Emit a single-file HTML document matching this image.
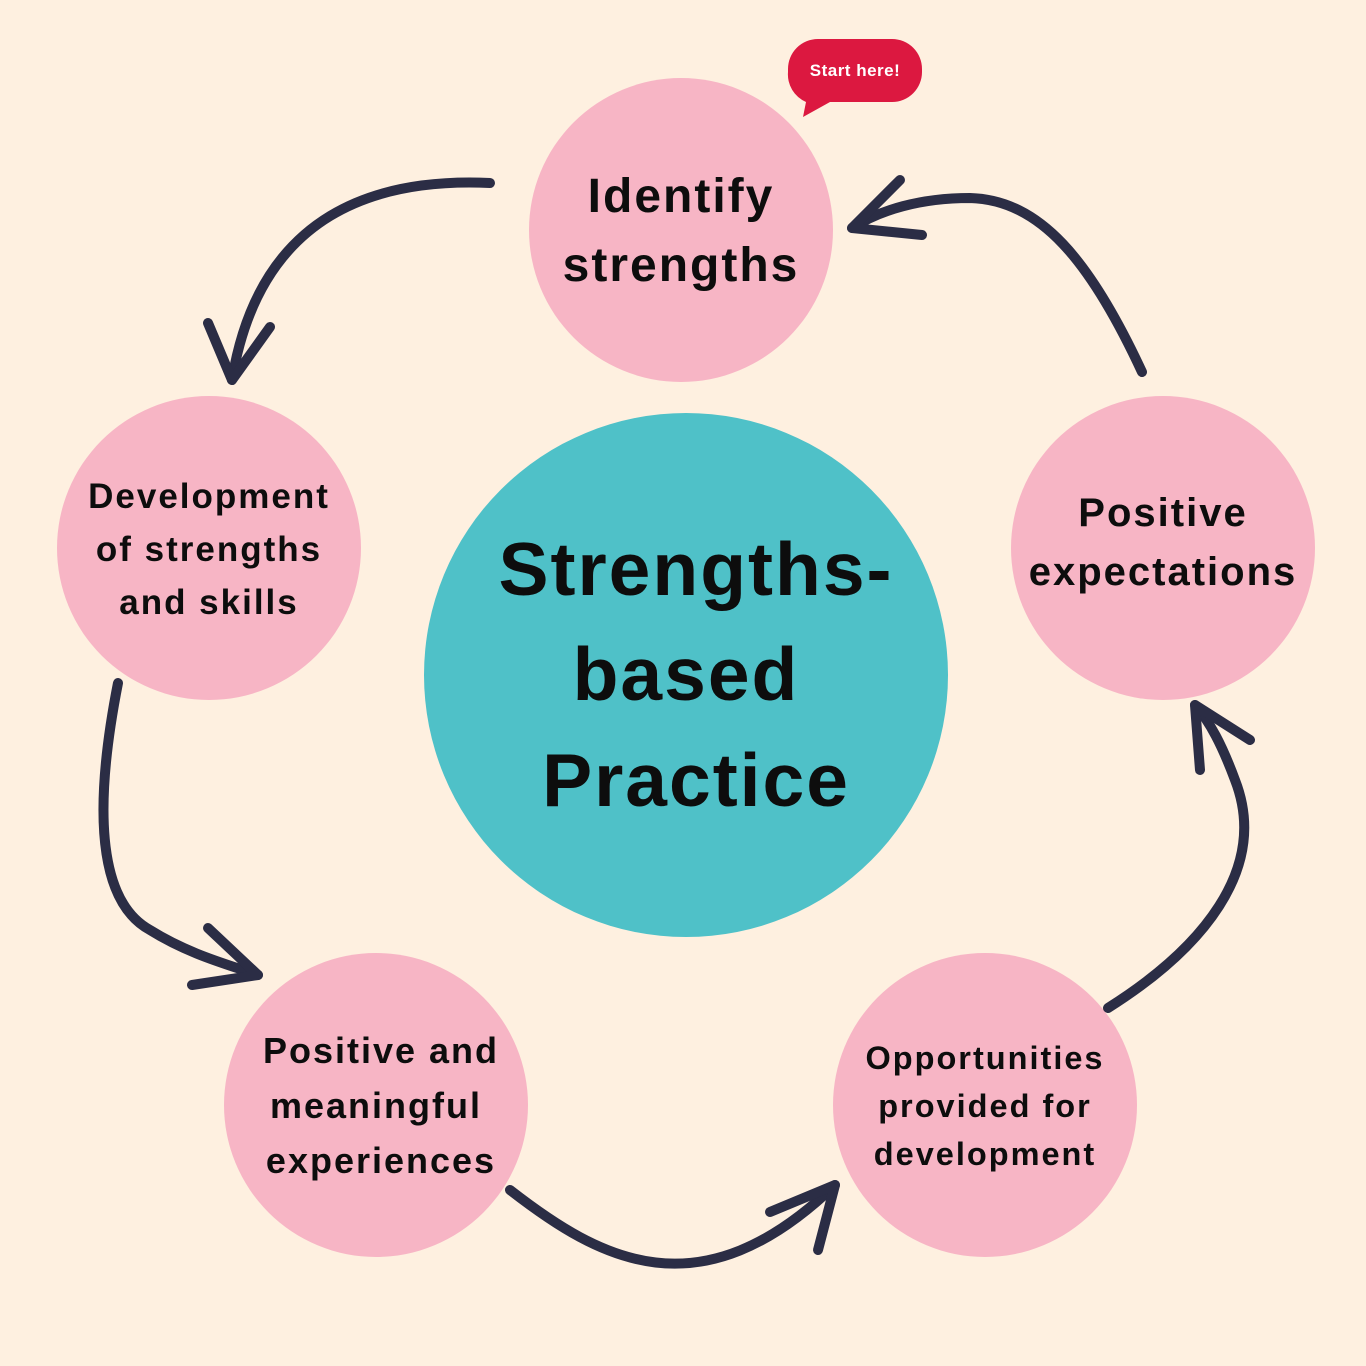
<!DOCTYPE html>
<html><head><meta charset="utf-8"><style>
html,body{margin:0;padding:0;background:#FEF0E0;}
svg{display:block}
text{font-family:"Liberation Sans","DejaVu Sans",sans-serif;font-weight:bold;fill:#0d0d0d;text-anchor:middle;}
</style></head><body>
<svg width="1366" height="1366" viewBox="0 0 1366 1366" xmlns="http://www.w3.org/2000/svg">
<rect width="1366" height="1366" fill="#FEF0E0"/>
<circle cx="686" cy="675" r="262" fill="#4FC1C8"/>
<circle cx="681" cy="230" r="152" fill="#F7B5C5"/>
<circle cx="209" cy="548" r="152" fill="#F7B5C5"/>
<circle cx="1163" cy="548" r="152" fill="#F7B5C5"/>
<circle cx="376" cy="1105" r="152" fill="#F7B5C5"/>
<circle cx="985" cy="1105" r="152" fill="#F7B5C5"/>

<g fill="none" stroke="#2B2D45" stroke-width="10" stroke-linecap="round" stroke-linejoin="round">
<path d="M490,183 C380,178 260,210 232,380"/>
<path d="M208,323 L232,380 L270,327"/>
<path d="M118,683 C95,800 95,900 150,930 C190,955 230,965 258,975"/>
<path d="M208,928 L258,975 L192,985"/>
<path d="M510,1190 C600,1260 700,1315 835,1185"/>
<path d="M770,1212 L835,1185 L818,1250"/>
<path d="M1108,1008 C1200,950 1270,870 1235,780 C1222,745 1210,722 1195,705"/>
<path d="M1200,770 L1195,705 L1250,740"/>
<path d="M1142,372 C1090,260 1040,200 970,198 C920,198 880,210 852,228"/>
<path d="M900,180 L852,228 L922,235"/>
</g>

<path d="M818,39 H892 A30,30 0 0 1 922,69 V72 A30,30 0 0 1 892,102 H830 L803,117 L806,102 A30,30 0 0 1 788,72 V69 A30,30 0 0 1 818,39 Z" fill="#DC1840"/>
<text x="855" y="76" font-size="17" style="fill:#fff;letter-spacing:0.5px">Start here!</text>

<g style="letter-spacing:2px">
<text x="681" y="212" font-size="48">Identify</text>
<text x="681" y="281" font-size="48">strengths</text>

<text x="209" y="508" font-size="35">Development</text>
<text x="209" y="561" font-size="35">of strengths</text>
<text x="209" y="614" font-size="35">and skills</text>

<text x="1163" y="526" font-size="40">Positive</text>
<text x="1163" y="585" font-size="40">expectations</text>

<text x="381" y="1063" font-size="36">Positive and</text>
<text x="376" y="1118" font-size="36">meaningful</text>
<text x="381" y="1173" font-size="36">experiences</text>

<text x="985" y="1069" font-size="32.5">Opportunities</text>
<text x="985" y="1117" font-size="32.5">provided for</text>
<text x="985" y="1165" font-size="32.5">development</text>

<text x="696" y="595" font-size="75">Strengths-</text>
<text x="686" y="700" font-size="75">based</text>
<text x="696" y="806" font-size="75">Practice</text>
</g>
</svg>
</body></html>
